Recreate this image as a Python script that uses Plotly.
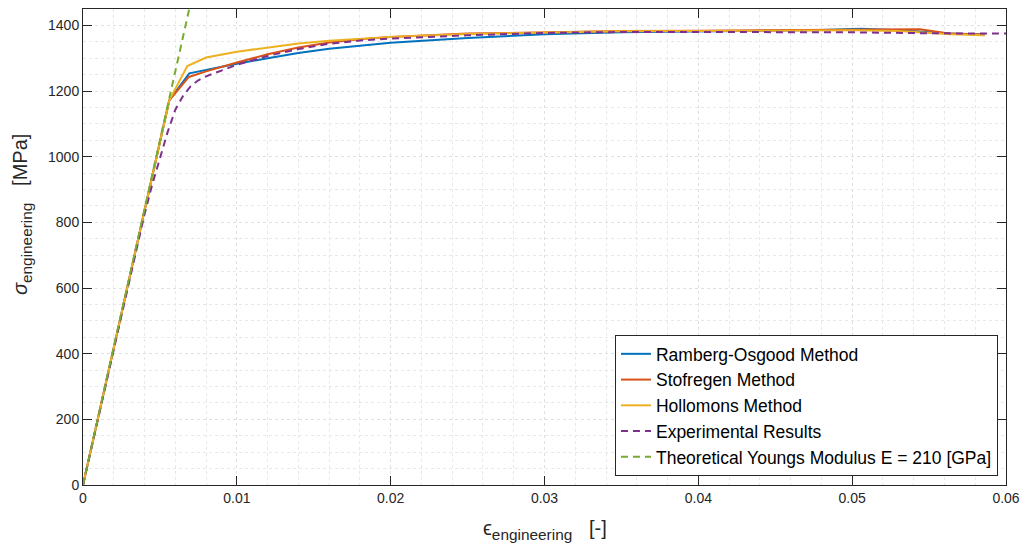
import plotly.graph_objects as go

# ---- data ----
ro_eps = [0, 0.00561, 0.00691, 0.008, 0.010, 0.012, 0.014, 0.016, 0.018, 0.020, 0.025, 0.030,
          0.035, 0.040, 0.045, 0.048, 0.0506, 0.053, 0.0564, 0.0586]
ro_sig = [0, 1172, 1254, 1265, 1283, 1300, 1316, 1329, 1339, 1347, 1362, 1373,
          1379, 1382, 1384, 1386, 1390, 1385, 1375, 1372]

st_eps = [0, 0.00561, 0.00688, 0.008, 0.010, 0.012, 0.014, 0.016, 0.018, 0.020, 0.025, 0.030,
          0.035, 0.040, 0.045, 0.050, 0.0544, 0.0564, 0.0586]
st_sig = [0, 1172, 1243, 1260, 1287, 1312, 1333, 1348, 1358, 1365, 1375, 1380,
          1383, 1384, 1385, 1386, 1388, 1375, 1372]

ho_eps = [0, 0.00561, 0.00678, 0.008, 0.010, 0.012, 0.014, 0.016, 0.018, 0.020, 0.025, 0.030,
          0.035, 0.040, 0.045, 0.050, 0.053, 0.0564, 0.0586]
ho_sig = [0, 1172, 1276, 1302, 1320, 1333, 1345, 1353, 1360, 1365, 1374, 1379,
          1382, 1383, 1384, 1385, 1383, 1373, 1370]

ex_eps = [0, 0.001, 0.002, 0.003, 0.0035, 0.004, 0.0045, 0.005, 0.0055, 0.006, 0.0065, 0.007,
          0.0075, 0.008, 0.009, 0.010, 0.012, 0.014, 0.016, 0.018, 0.020, 0.025, 0.030,
          0.035, 0.040, 0.045, 0.050, 0.055, 0.060]
ex_sig = [0, 205, 415, 625, 727, 825, 915, 995, 1075, 1143, 1185, 1215,
          1233, 1245, 1262, 1280, 1307, 1328, 1344, 1354, 1360, 1370, 1377,
          1380, 1380, 1380, 1379, 1376, 1375]

E_GPa = 210
th_eps = [0, 0.0072]
th_sig = [e * E_GPa * 1000 for e in th_eps]

names = ["Ramberg-Osgood Method", "Stofregen Method", "Hollomons Method",
         "Experimental Results", "Theoretical Youngs Modulus E = 210 [GPa]"]
colors = ["#0072BD", "#D95319", "#EDB120", "#7E2F8E", "#77AC30"]

x_ticks = [0, 0.01, 0.02, 0.03, 0.04, 0.05, 0.06]
x_ticktext = ["0", "0.01", "0.02", "0.03", "0.04", "0.05", "0.06"]
y_ticks = [0, 200, 400, 600, 800, 1000, 1200, 1400]

FONT = "Liberation Sans, Arial"

fig = go.Figure()
series = [(ro_eps, ro_sig, "solid"), (st_eps, st_sig, "solid"), (ho_eps, ho_sig, "solid"),
          (ex_eps, ex_sig, "7px,5px"), (th_eps, th_sig, "7px,5px")]
for (xs, ys, dash), name, c in zip(series, names, colors):
    fig.add_trace(go.Scatter(x=xs, y=ys, mode="lines", name=name,
                             line=dict(color=c, width=2, dash=dash)))

axis_common = dict(
    showline=True, linecolor="#262626", linewidth=1, mirror="ticks",
    ticks="inside", ticklen=9, tickcolor="#262626",
    tickfont=dict(family=FONT, size=14, color="#262626"),
    showgrid=True, gridcolor="#e0e0e0", griddash="dot", gridwidth=1,
    zeroline=False, automargin=False,
)

fig.update_xaxes(range=[0, 0.06], tickvals=x_ticks, ticktext=x_ticktext,
                 minor=dict(dtick=0.002, showgrid=True, gridcolor="#e8e8e8", griddash="dot", ticks=""),
                 **axis_common)
fig.update_yaxes(range=[0, 1450], tickvals=y_ticks,
                 minor=dict(dtick=50, showgrid=True, gridcolor="#e8e8e8", griddash="dot", ticks=""),
                 **axis_common)

gap = "\u00a0\u00a0 "
# axis labels (as annotations to match the reference placement)
fig.add_annotation(
    text="<span style='font-size:20px'>ϵ</span><sub>engineering</sub><span style='font-size:20px'>" + gap + "[-]</span>",
    xref="paper", yref="paper", x=0.5, y=0, xanchor="center", yanchor="top",
    yshift=-30, showarrow=False,
    font=dict(family=FONT, size=22, color="#262626"))
fig.add_annotation(
    text="<span style='font-size:20px'><i>σ</i></span><sub>engineering</sub><span style='font-size:20px'>" + gap + "[MPa]</span>",
    xref="paper", yref="paper", x=0, y=0.567, xanchor="right", yanchor="middle",
    xshift=-46, textangle=-90, showarrow=False,
    font=dict(family=FONT, size=22, color="#262626"))

fig.update_layout(
    width=1024, height=549,
    margin=dict(l=83, r=18, t=9, b=64),
    paper_bgcolor="white", plot_bgcolor="white",
    showlegend=True,
    legend=dict(x=0.9913, y=0.019, xanchor="right", yanchor="bottom",
                bgcolor="white", bordercolor="#262626", borderwidth=1,
                font=dict(family=FONT, size=17.5, color="#000000"),
                tracegroupgap=0, itemwidth=30),
)

fig.write_html("out.html")
